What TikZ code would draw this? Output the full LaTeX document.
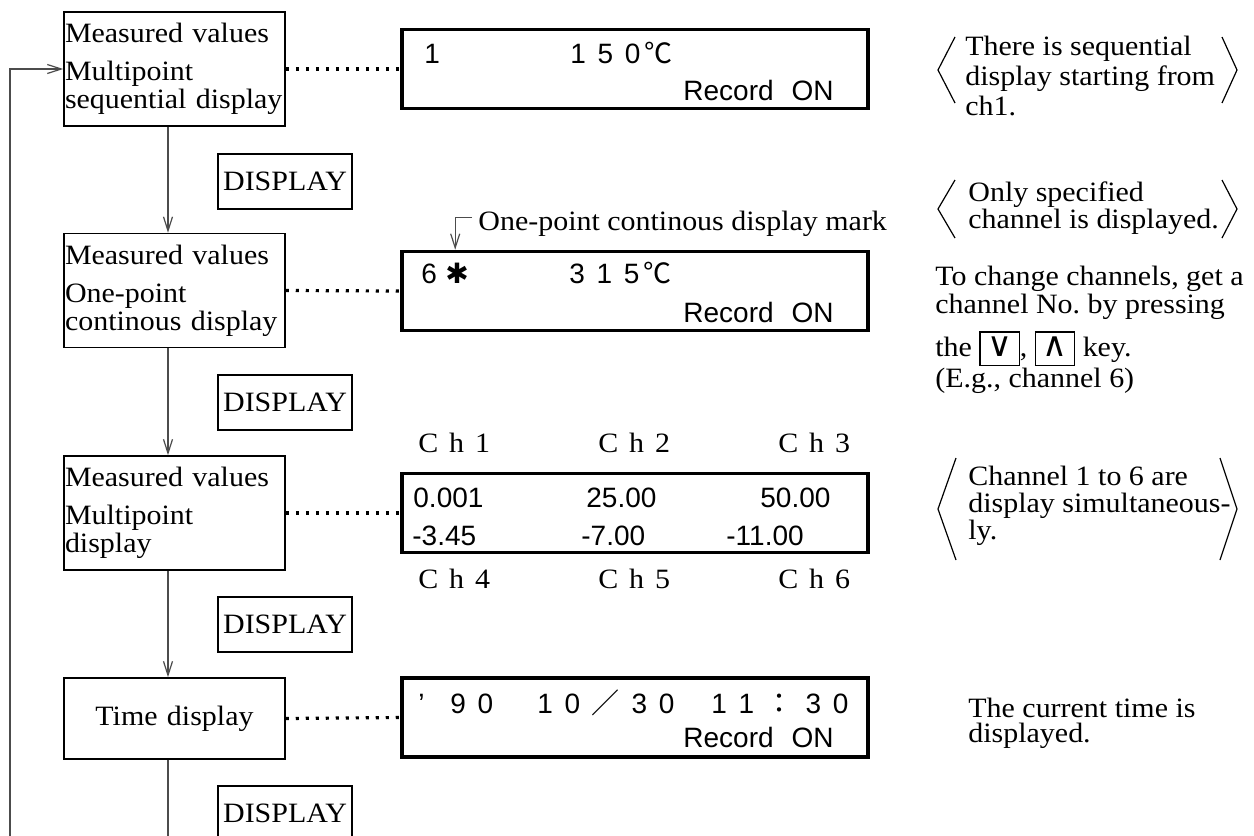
\documentclass[tikz,border=0pt]{standalone}
\usepackage{fontspec}
\usepackage{graphicx}
\setmainfont{Liberation Serif}[FakeStretch=1.07]
\newfontfamily\lcdfont{Liberation Sans}[WordSpace=1.5]
\newfontfamily\cjkfont{Noto Sans CJK JP}
\newfontfamily\symfont{DejaVu Sans}
\newfontfamily\chfont{Liberation Serif}[FakeStretch=1.07,LetterSpace=12]
\usetikzlibrary{arrows.meta}
\newcommand{\keycap}[1]{{\setlength{\fboxsep}{0pt}\setlength{\fboxrule}{0.6pt}\fbox{\makebox[19pt]{\rule[-4pt]{0pt}{16pt}{\symfont\fontsize{17}{17}\selectfont #1}}}}}
\newcommand{\degc}{\hspace{2pt}{\cjkfont ℃}}

\begin{document}
\begin{tikzpicture}[x=0.5pt,y=-0.5pt,
    modebox/.style={rectangle, draw, line width=0.75pt, minimum width=110.5pt, minimum height=57pt, text width=109.5pt, align=left, inner sep=0pt, font=\fontsize{14}{14}\selectfont},
    dispkey/.style={rectangle, draw, line width=0.8pt, minimum width=67pt, minimum height=27.5pt, inner sep=0pt, font=\fontsize{14}{14}\selectfont},
    lcd/.style={rectangle, draw, line width=1.8pt, minimum width=233pt, minimum height=39.5pt, inner sep=0pt},
    lcdtxt/.style={anchor=base west, inner sep=0pt, font=\lcdfont\fontsize{14}{16}\selectfont},
    chtxt/.style={anchor=base west, inner sep=0pt, font=\chfont\fontsize{14}{14}\selectfont},
    note/.style={anchor=north west, inner sep=0pt, align=left, font=\fontsize{14}{13.5}\selectfont},
    flow/.style={draw=black!70, line width=0.6pt, -{Straight Barb[length=7pt,width=4.5pt]}},
    link/.style={draw=black!70, line width=0.6pt},
    dotline/.style={line width=1.6pt, dash pattern=on 1.6pt off 3.4pt},
    brack/.style={line width=0.6pt}
]
\useasboundingbox (0,0) rectangle (1254,836);
\clip (0,0) rectangle (1254,836);

% Multipoint sequential display
\node[modebox] (seqbox) at (174.5,69) {Measured values\\[5pt]Multipoint\\sequential display};
\node[lcd] (seqlcd) at (635,69) {};
\node[lcdtxt] (seqch) at (424,63) {1};
\node[lcdtxt] (seqval) at (570,63) {1 5 0\degc};
\node[lcdtxt] (seqrec) at (683,100) {Record\hspace{9pt}ON};
\node[note, font=\fontsize{14}{15}\selectfont] (seqnote) at (965,36) {There is sequential\\display starting from\\ch1.};
\draw[brack] (955,37) -- (938,70) -- (955,103);
\draw[brack] (1222,37) -- (1237,70) -- (1222,103);

\node[dispkey] (keya) at (285,181.5) {DISPLAY};

% One-point continous display
\node[modebox] (onebox) at (174.5,290.5) {Measured values\\[5pt]One-point\\continous display};
\node[lcd] (onelcd) at (635,291) {};
\node[lcdtxt] (onech) at (421,283) {6};
\node[lcdtxt, anchor=base] (onestar) at (457,283) {\symfont ✱};
\node[lcdtxt] (oneval) at (569,283) {3 1 5\degc};
\node[lcdtxt] (onerec) at (683,322) {Record\hspace{9pt}ON};
\node[anchor=base west, inner sep=0pt, font=\fontsize{14}{14}\selectfont] (marktxt) at (478,230) {One-point continous display mark};
\node[note] (onenote) at (968,181) {Only specified\\channel is displayed.};
\draw[brack] (955,180) -- (938,209) -- (955,238);
\draw[brack] (1222,180) -- (1237,209) -- (1222,238);
\node[note, font=\fontsize{14}{12.5}\selectfont] (chgnote) at (935,266) {To change channels, get a\\channel No.\ by pressing\\[5pt]the \keycap{∨}, \keycap{∧} key.\\(E.g., channel 6)};

\node[dispkey] (keyb) at (285,402.5) {DISPLAY};

% Multipoint display
\node[modebox] (multibox) at (174.5,513) {Measured values\\[5pt]Multipoint\\display};
\node[lcd] (multilcd) at (635,513) {};
\node[chtxt] (ch1) at (418,452) {C h 1};
\node[chtxt] (ch2) at (598,452) {C h 2};
\node[chtxt] (ch3) at (778,452) {C h 3};
\node[chtxt] (ch4) at (418,588) {C h 4};
\node[chtxt] (ch5) at (598,588) {C h 5};
\node[chtxt] (ch6) at (778,588) {C h 6};
\node[lcdtxt] (val1) at (413,507) {0.001};
\node[lcdtxt] (val2) at (586,507) {25.00};
\node[lcdtxt] (val3) at (760,507) {50.00};
\node[lcdtxt] (val4) at (412,545) {-3.45};
\node[lcdtxt] (val5) at (581,545) {-7.00};
\node[lcdtxt] (val6) at (726,545) {-11.00};
\node[note] (multinote) at (968,466) {Channel 1 to 6 are\\display simultaneous-\\ly.};
\draw[brack] (956,458) -- (938,509) -- (956,560);
\draw[brack] (1220,458) -- (1237,509) -- (1220,560);

\node[dispkey] (keyc) at (285,624.5) {DISPLAY};

% Time display
\node[modebox, minimum height=40.5pt, align=center] (timebox) at (174.5,718.5) {Time display};
\node[lcd] (timelcd) at (635,717.5) {};
\node[lcdtxt] (tyear) at (418,713) {’};
\node[lcdtxt] (tyr) at (450,713) {9 0};
\node[lcdtxt] (tdate) at (537,713) {1 0 {\cjkfont ／} 3 0};
\node[lcdtxt] (tclock) at (711,713) {1 1 {\cjkfont ：} 3 0};
\node[lcdtxt] (timerec) at (683,747) {Record\hspace{9pt}ON};
\node[note, font=\fontsize{14}{12.5}\selectfont] (timenote) at (968,698) {The current time is\\displayed.};

\node[dispkey] (keyd) at (285,813.5) {DISPLAY};

% Connectors
\coordinate (timeout) at (168,880);
\coordinate (loopin) at (10,880);
\draw[flow] ([xshift=-3.25pt]seqbox.south) -- ([xshift=-3.25pt]onebox.north);
\draw[flow] ([xshift=-3.25pt]onebox.south) -- ([xshift=-3.25pt]multibox.north);
\draw[flow] ([xshift=-3.25pt]multibox.south) -- ([xshift=-3.25pt]timebox.north);
\draw[link] ([xshift=-3.25pt]timebox.south) -- (timeout);
\draw[flow] (loopin) |- (seqbox.west);
\draw[flow] ([xshift=-3pt,yshift=3pt]marktxt.west) -| ([xshift=27.5pt]onelcd.north west);

% Dotted links
\draw[dotline] (seqbox.east) -- (seqlcd.west);
\draw[dotline] (onebox.east) -- (onelcd.west);
\draw[dotline] (multibox.east) -- (multilcd.west);
\draw[dotline] (timebox.east) -- (timelcd.west);

\end{tikzpicture}
\end{document}
